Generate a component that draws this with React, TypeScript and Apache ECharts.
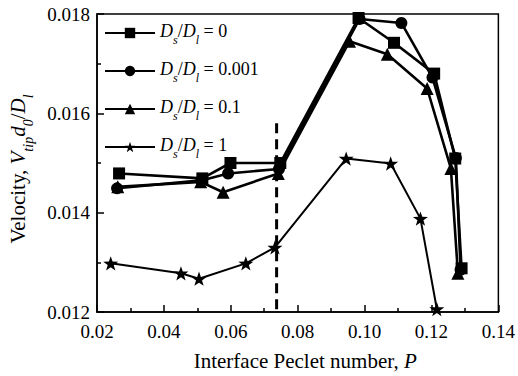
import React, { useEffect, useRef } from "react";
import * as echarts from "echarts";

const seriesNames = ["Ds/Dl = 0", "Ds/Dl = 0.001", "Ds/Dl = 0.1", "Ds/Dl = 1"];
const ratioLabels = ["0", "0.001", "0.1", "1"];

const sqX = [0.0266, 0.0515, 0.0599, 0.0748, 0.0982, 0.1088, 0.1208, 0.1271, 0.129];
const sqY = [0.01479, 0.01469, 0.015, 0.015, 0.01792, 0.01742, 0.0168, 0.01509, 0.01288];

const ciX = [0.026, 0.0512, 0.0592, 0.0744, 0.0985, 0.111, 0.1203, 0.1273, 0.1287];
const ciY = [0.01449, 0.01465, 0.01479, 0.01488, 0.0179, 0.01782, 0.01672, 0.0151, 0.01285];

const trX = [0.0262, 0.051, 0.0577, 0.0742, 0.0955, 0.1068, 0.1187, 0.1258, 0.1279];
const trY = [0.01452, 0.01462, 0.01441, 0.01479, 0.01745, 0.01719, 0.0165, 0.01489, 0.01278];

const stX = [0.0241, 0.0451, 0.0505, 0.0645, 0.0732, 0.0945, 0.1078, 0.1167, 0.1216];
const stY = [0.01298, 0.01278, 0.01267, 0.01298, 0.0133, 0.01509, 0.01499, 0.01388, 0.01206];

const dashX = [0.0737, 0.0737];
const dashY = [0.0158, 0.012];

const FONT = "'Liberation Serif', 'Times New Roman', serif";
const STAR =
  "path://M0,-10 L2.35,-3.24 L9.51,-3.09 L3.8,1.24 L5.88,8.09 L0,4 L-5.88,8.09 L-3.8,1.24 L-9.51,-3.09 L-2.35,-3.24 Z";

const zip = (xs: number[], ys: number[]) => xs.map((x, i) => [x, ys[i]]);

const makeRich = (size: number, sub: number, drop: number) => ({
  n: { fontFamily: FONT, fontSize: size, color: "#000", lineHeight: size + 4, verticalAlign: "top" },
  i: {
    fontFamily: FONT,
    fontSize: size,
    fontStyle: "italic",
    color: "#000",
    lineHeight: size + 4,
    verticalAlign: "top",
  },
  s: {
    fontFamily: FONT,
    fontSize: sub,
    fontStyle: "italic",
    color: "#000",
    lineHeight: sub + 2,
    padding: [drop, 0, 0, 0],
    verticalAlign: "top",
  },
});

const legendRich = makeRich(18, 12, 12);
const titleRich = makeRich(21, 14, 14);

export default function App() {
  const ref = useRef<HTMLDivElement>(null);
  useEffect(() => {
    document.body.style.margin = "0";
    const chart = echarts.init(ref.current!, null, { renderer: "svg" });
    const lineSeries = (name: string, data: number[][], symbol: string, size: number, width: number) => ({
      name,
      type: "line",
      data,
      symbol,
      symbolSize: size,
      symbolKeepAspect: true,
      showAllSymbol: true,
      clip: false,
      lineStyle: { color: "#000", width },
      itemStyle: { color: "#000", borderColor: "#000", borderWidth: 0 },
      z: 3,
    });
    chart.setOption({
      animation: false,
      backgroundColor: "#fff",
      textStyle: { fontFamily: FONT },
      grid: { left: 97, right: 16, top: 14, bottom: 58, show: true, borderColor: "#000", borderWidth: 1.5 },
      legend: {
        orient: "vertical",
        left: 99,
        top: 17,
        itemWidth: 50,
        itemHeight: 13,
        itemGap: 14,
        data: seriesNames,
        formatter: (name: string) => {
          const idx = seriesNames.indexOf(name);
          return `{i|D}{s|s}{n|/}{i|D}{s|l}{n| = ${ratioLabels[idx]}}`;
        },
        textStyle: { rich: legendRich, fontFamily: FONT, fontSize: 18, color: "#000" },
      },
      xAxis: {
        type: "value",
        min: 0.02,
        max: 0.14,
        interval: 0.02,
        name: "Interface Peclet number, {i|P}",
        nameLocation: "middle",
        nameGap: 38,
        nameTextStyle: {
          fontFamily: FONT,
          fontSize: 21,
          color: "#000",
          padding: [0, 0, 0, 15],
          rich: { i: { fontFamily: FONT, fontSize: 21, fontStyle: "italic", color: "#000" } },
        },
        axisLine: { lineStyle: { color: "#000", width: 1.5 } },
        axisTick: { inside: true, length: 7, lineStyle: { color: "#000", width: 1.5 } },
        minorTick: { show: true, splitNumber: 2, length: 4, lineStyle: { color: "#000", width: 1.5 } },
        splitLine: { show: false },
        axisLabel: {
          fontFamily: FONT,
          fontSize: 19,
          color: "#000",
          margin: 10,
          formatter: (v: number) => v.toFixed(2),
        },
      },
      yAxis: {
        type: "value",
        min: 0.012,
        max: 0.018,
        interval: 0.002,
        axisLine: { lineStyle: { color: "#000", width: 1.5 } },
        axisTick: { inside: true, length: 7, lineStyle: { color: "#000", width: 1.5 } },
        minorTick: { show: true, splitNumber: 2, length: 4, lineStyle: { color: "#000", width: 1.5 } },
        splitLine: { show: false },
        axisLabel: {
          fontFamily: FONT,
          fontSize: 19,
          color: "#000",
          margin: 7,
          formatter: (v: number) => v.toFixed(3),
        },
      },
      graphic: [
        {
          type: "text",
          x: 20,
          y: 169,
          rotation: Math.PI / 2,
          style: {
            text: "{n|Velocity, }{i|V}{s|tip}{i|d}{s|0}{n|/}{i|D}{s|l}",
            rich: titleRich,
            font: `21px ${FONT}`,
            align: "center",
            verticalAlign: "middle",
            fill: "#000",
          },
        },
      ],
      series: [
        lineSeries(seriesNames[0], zip(sqX, sqY), "rect", 12, 2.6),
        lineSeries(seriesNames[1], zip(ciX, ciY), "circle", 12, 2.6),
        lineSeries(seriesNames[2], zip(trX, trY), "triangle", 13, 2.6),
        lineSeries(seriesNames[3], zip(stX, stY), STAR, 15, 2),
        {
          name: "dash",
          type: "line",
          data: zip(dashX, dashY),
          symbol: "none",
          lineStyle: { color: "#000", width: 3, type: [10, 6] },
          z: 2,
        },
      ],
    });
    return () => chart.dispose();
  }, []);
  return <div ref={ref} style={{ width: 518, height: 376, position: "absolute", left: 0, top: 0 }} />;
}
